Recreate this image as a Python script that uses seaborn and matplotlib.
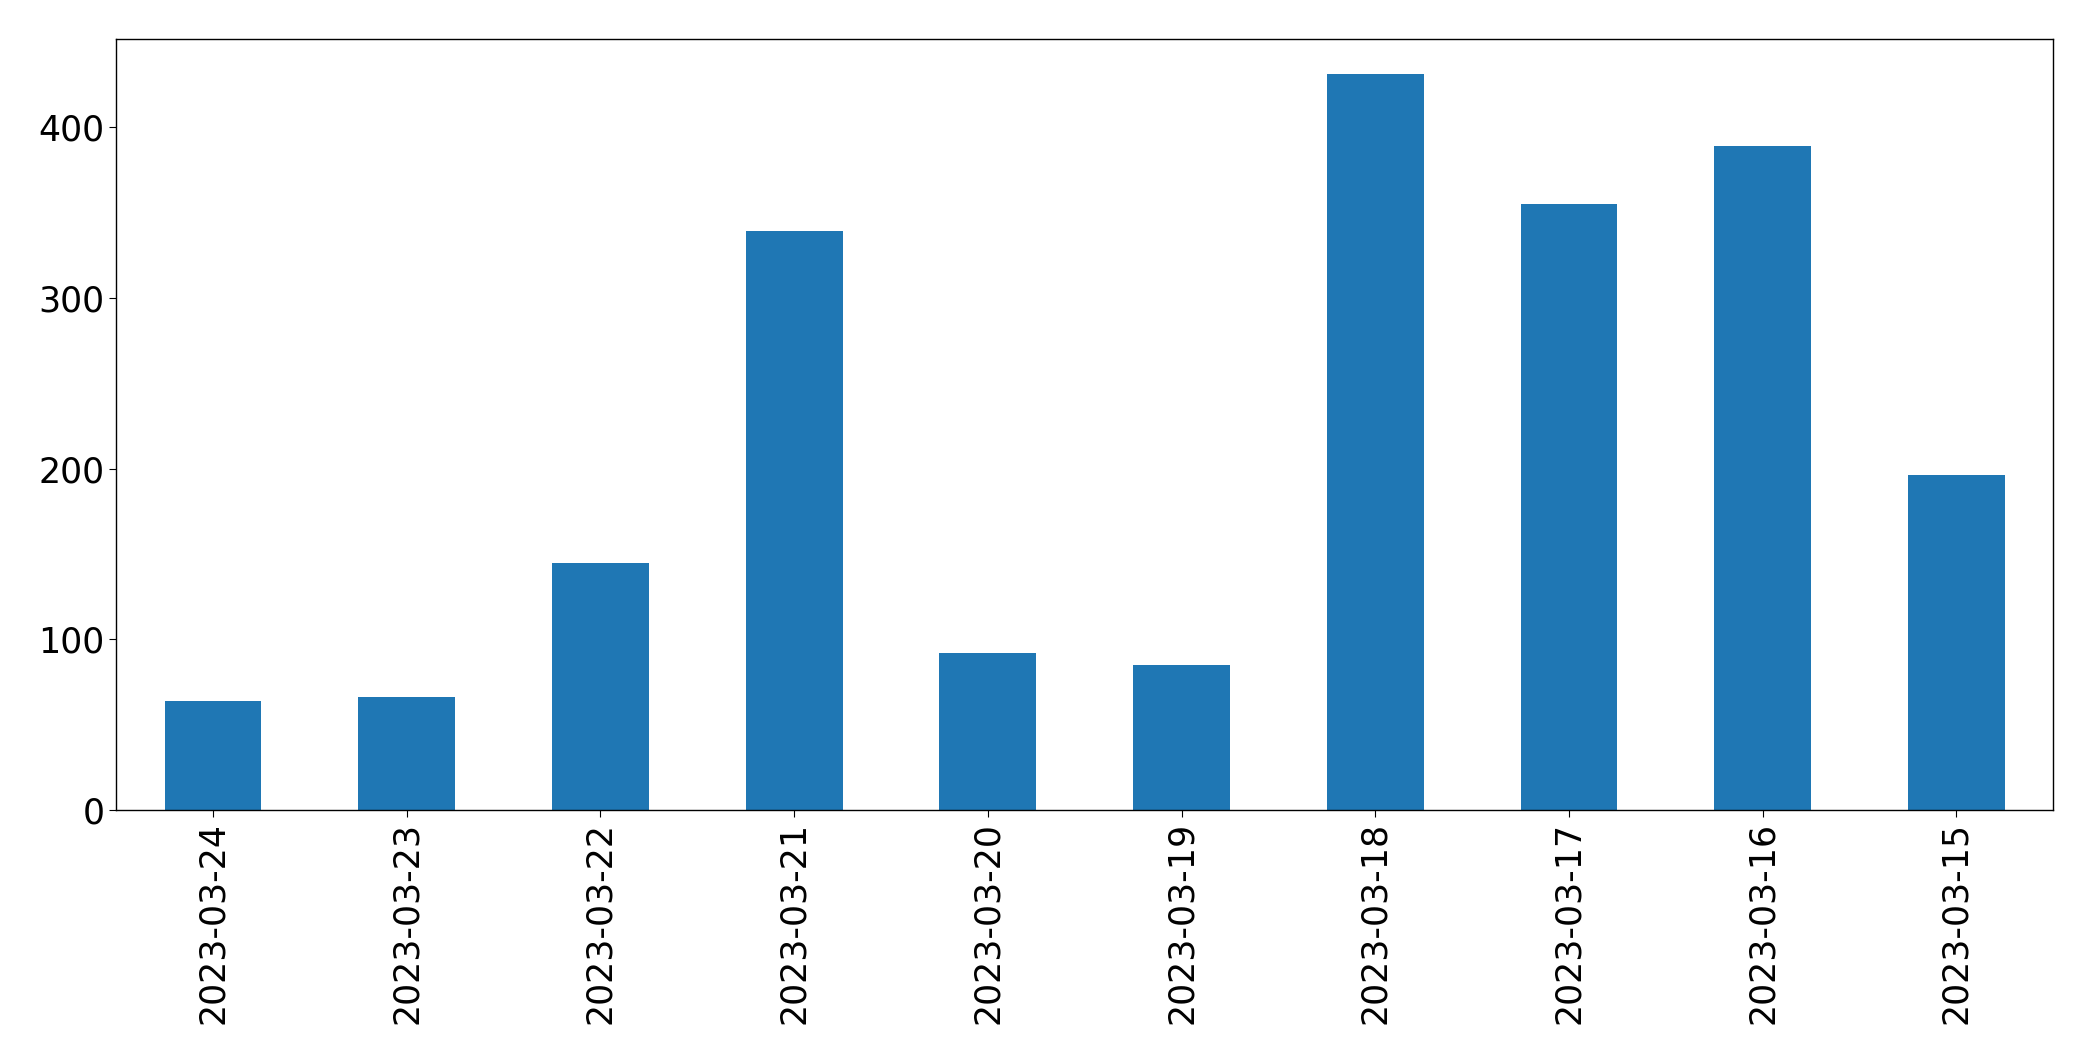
import matplotlib
matplotlib.use("Agg")
import matplotlib.pyplot as plt
import seaborn as sns
import pandas as pd

dates = ["2023-03-24", "2023-03-23", "2023-03-22", "2023-03-21", "2023-03-20",
         "2023-03-19", "2023-03-18", "2023-03-17", "2023-03-16", "2023-03-15"]
counts = [64, 66, 145, 339, 92, 85, 431, 355, 389, 196]

df = pd.DataFrame({"date": dates, "count": counts})

plt.rcParams['font.family'] = ['DejaVu Sans']
fig = plt.figure(figsize=(20.93, 10.61), dpi=100)
ax = fig.add_axes([0.0555, 0.2366, 0.9255, 0.727])
sns.barplot(data=df, x="date", y="count", order=dates, color="#1f77b4",
            saturation=1, width=0.5, ax=ax)
ax.set_xlim(-0.5, len(dates) - 0.5)
ax.set_ylim(0, 452)
ax.set_yticks([0, 100, 200, 300, 400])
ax.set_xlabel("")
ax.set_ylabel("")
ax.tick_params(axis="both", labelsize=25, length=5, colors="black")
ax.tick_params(axis="x", labelrotation=90)
for s in ax.spines.values():
    s.set_linewidth(1.0)
    s.set_color("black")
fig.savefig("out.png", dpi=100)
